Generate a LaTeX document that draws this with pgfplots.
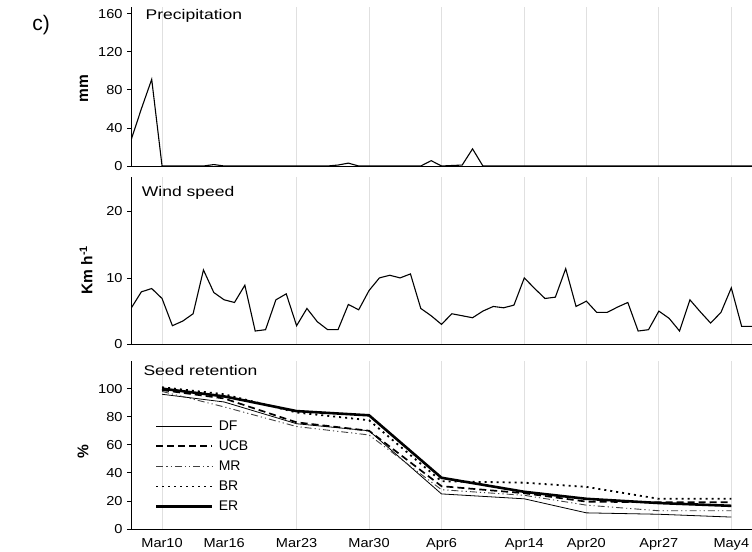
\documentclass[border=0pt]{standalone}
\usepackage{fontspec}
\setmainfont{Liberation Sans}
\newfontfamily\tickfont[FakeStretch=1.12]{Liberation Sans}
\newfontfamily\titlefont[FakeStretch=1.25]{Liberation Sans}
\usepackage{pgfplots}
\pgfplotsset{compat=1.18}

\pgfplotstableread{
day val
-3 27
-2 60
-1 91
0 0
1 0
2 0
3 0
4 0
5 1.5
6 0
7 0
8 0
9 0
10 0
11 0
12 0
13 0
14 0
15 0
16 0
17 1
18 3
19 0
20 0
21 0
22 0
23 0
24 0
25 0
26 5.6
27 0
28 0.5
29 1
30 18
31 0
32 0
33 0
34 0
35 0
36 0
37 0
38 0
39 0
40 0
41 0
42 0
43 0
44 0
45 0
46 0
47 0
48 0
49 0
50 0
51 0
52 0
53 0
54 0
55 0
56 0
57 0
}\precip

\pgfplotstableread{
day val
-3 5.4
-2 7.9
-1 8.4
0 6.9
1 2.8
2 3.5
3 4.6
4 11.2
5 7.8
6 6.7
7 6.3
8 8.9
9 2.0
10 2.2
11 6.7
12 7.6
13 2.8
14 5.4
15 3.4
16 2.2
17 2.2
18 6.0
19 5.2
20 8.1
21 10.0
22 10.4
23 10.0
24 10.6
25 5.4
26 4.3
27 3.0
28 4.6
29 4.3
30 4.0
31 5.0
32 5.7
33 5.5
34 5.9
35 10.0
36 8.4
37 6.9
38 7.1
39 11.4
40 5.7
41 6.5
42 4.8
43 4.8
44 5.6
45 6.3
46 2.0
47 2.2
48 5.0
49 3.9
50 2.0
51 6.7
52 4.9
53 3.2
54 4.8
55 8.5
56 2.7
57 2.7
}\wind

\pgfplotstableread{
day DF UCB MR BR ER
0 96 99 98 101 100
6 90.5 93 87 96 94.5
13 75 76 73 83 84
20 70 70 67 77.5 81
27 25 30.5 28 34 36.5
35 21.5 25.5 24 33 26.5
41 11.5 19.5 17 30 21.5
48 10.5 19 13 21.5 18.5
55 8.5 19 13 21.5 16.5
}\seed

\pgfplotsset{
  panel/.style={
    anchor=south west, scale only axis, width=621bp,
    xmin=-3, xmax=57,
    axis lines=left, axis line style={-, line width=0.8bp, black},
    tick align=outside, ytick pos=left,
    xtick={0,13,20,27,35,41,48,55},
    xmajorgrids, major grid style={line width=0.8bp, black!12},
    xtick style={draw=none},
    ytick style={line width=0.8bp, black}, major tick length=4bp,
    tick label style={font=\tickfont\fontsize{13bp}{15bp}\selectfont},
    /pgf/number format/assume math mode=true,
    yticklabel style={xshift=-1bp},
  }
}

\begin{document}
\begin{tikzpicture}[x=1bp,y=1bp]
\useasboundingbox (0bp,0bp) rectangle (752bp,552bp);

% Precipitation
\begin{axis}[panel, at={(131bp,386bp)}, height=159bp,
  ymin=0, ymax=167, ytick={0,40,80,120,160}, xticklabels={}]
\addplot[black, line width=1.1bp, mark=none] table[x=day, y=val] {\precip};
\end{axis}

% Wind speed
\begin{axis}[panel, at={(131bp,207.7bp)}, height=167.3bp,
  ymin=0, ymax=25.2, ytick={0,10,20}, xticklabels={}]
\addplot[black, line width=1.1bp, mark=none] table[x=day, y=val] {\wind};
\end{axis}

% Seed retention
\begin{axis}[panel, at={(131bp,23bp)}, height=168bp,
  ymin=0, ymax=119.7, ytick={0,20,40,60,80,100},
  xticklabels={Mar10,Mar23,Mar30,Apr6,Apr14,Apr20,Apr27,May4},
  extra x ticks={6}, extra x tick labels={Mar16},
  extra x tick style={grid=none, xtick style={draw=none}},
  xticklabel style={yshift=-2bp},
  legend image code/.code={\draw[#1] (0bp,0bp) -- (56bp,0bp);},
  legend cell align=left,
  legend style={draw=none, fill=none, inner sep=0pt,
    at={(axis description cs:0.0386,0.653)}, anchor=north west,
    font=\fontsize{14bp}{16bp}\selectfont,
    nodes={inner sep=1bp}, row sep=7bp,
    /tikz/every odd column/.style={column sep=4bp}},
  ]
\addplot[black, line width=0.8bp, mark=none] table[x=day, y=DF] {\seed};
\addlegendentry{DF}
\addplot[black, line width=1.7bp, dash pattern=on 7bp off 4bp, mark=none] table[x=day, y=UCB] {\seed};
\addlegendentry{UCB}
\addplot[black!75, line width=0.9bp, dash pattern=on 7bp off 3bp on 1.2bp off 3bp on 1.2bp off 3bp, mark=none] table[x=day, y=MR] {\seed};
\addlegendentry{MR}
\addplot[black, line width=1.8bp, dash pattern=on 2bp off 4bp, mark=none] table[x=day, y=BR] {\seed};
\addlegendentry{BR}
\addplot[black, line width=2.6bp, mark=none] table[x=day, y=ER] {\seed};
\addlegendentry{ER}
\end{axis}

% panel titles and labels
\node[anchor=base west, inner sep=0pt, font=\titlefont\fontsize{14bp}{16bp}\selectfont] at (145.5bp,532.7bp) {Precipitation};
\node[anchor=base west, inner sep=0pt, font=\titlefont\fontsize{14bp}{16bp}\selectfont] at (141.7bp,355.3bp) {Wind speed};
\node[anchor=base west, inner sep=0pt, font=\titlefont\fontsize{14bp}{16bp}\selectfont] at (143.3bp,176bp) {Seed retention};

\node[rotate=90, inner sep=0pt, font=\bfseries\fontsize{15.5bp}{17bp}\selectfont] at (84bp,463.7bp) {mm};
\node[rotate=90, inner sep=0pt, font=\bfseries\fontsize{15.5bp}{17bp}\selectfont] at (86bp,282bp) {Km h\textsuperscript{-1}};
\node[rotate=90, inner sep=0pt, font=\bfseries\fontsize{15.5bp}{17bp}\selectfont] at (83bp,100bp) {\%};

\node[inner sep=0pt, font=\fontsize{21bp}{24bp}\selectfont] at (41bp,527bp) {c)};
\end{tikzpicture}
\end{document}
